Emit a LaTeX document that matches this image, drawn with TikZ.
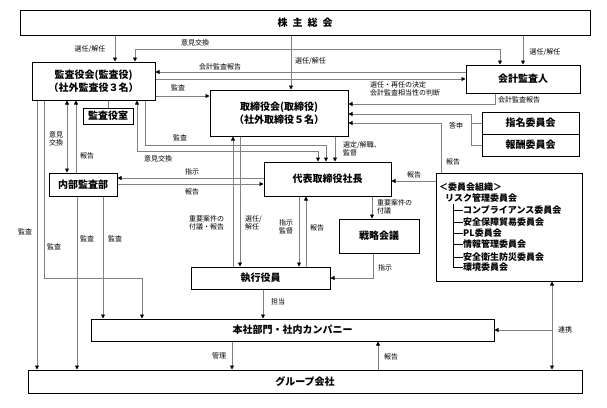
\documentclass[tikz,border=0pt]{standalone}
\usepackage{fontspec}
\setmainfont{Noto Sans CJK JP}
\usetikzlibrary{arrows.meta}
\begin{document}
\begin{tikzpicture}[x=1pt,y=-1pt,
 box/.style={draw=black,line width=1pt,fill=white,inner sep=0pt,align=center,font=\fontsize{10}{12.5}\selectfont\bfseries},
 ln/.style={draw=black!50,line width=0.8pt},
 arr/.style={ln,-{Triangle[length=4pt,width=4pt,color=black]}},
 darr/.style={ln,{Triangle[length=4pt,width=4pt,color=black]}-{Triangle[length=4pt,width=4pt,color=black]}},
 lab/.style={inner sep=0pt,font=\fontsize{7}{8}\selectfont,align=left},
 item/.style={inner sep=0pt,anchor=west,font=\fontsize{9}{10}\selectfont\bfseries},
]
\useasboundingbox[fill=white] (0,0) rectangle (607,407);

% boxes
\node[box,minimum width=570pt,minimum height=25pt] (kabu) at (305,22.5) {株\hspace{5pt}主\hspace{5pt}総\hspace{5pt}会};
\node[box,minimum width=123pt,minimum height=38pt] (kansa) at (93.5,81) {監査役会(監査役)\\（社外監査役３名）};
\node[box,minimum width=50pt,minimum height=16pt] (shitsu) at (108,116) {監査役室};
\node[box,minimum width=138pt,minimum height=46pt] (tori) at (279,113) {取締役会(取締役)\\（社外取締役５名）};
\node[box,minimum width=114pt,minimum height=28pt] (kaikei) at (523,79) {会計監査人};
\node[box,minimum width=97pt,minimum height=22pt] (shimei) at (530.5,123) {指名委員会};
\node[box,minimum width=97pt,minimum height=22pt] (hoshu) at (530.5,145) {報酬委員会};
\node[box,minimum width=127pt,minimum height=34pt] (daihyo) at (327.5,179) {代表取締役社長};
\node[box,minimum width=68pt,minimum height=23pt] (naibu) at (83,184.5) {内部監査部};
\node[box,minimum width=80pt,minimum height=34pt] (senryaku) at (379,236) {戦略会議};
\node[box,minimum width=146pt,minimum height=108pt] (iinkai) at (509,227) {};
\node[box,minimum width=139pt,minimum height=22pt] (shikko) at (260.5,278) {執行役員};
\node[box,minimum width=403pt,minimum height=22pt] (honsha) at (292.5,330) {本社部門・社内カンパニー};
\node[box,minimum width=554pt,minimum height=23pt] (group) at (305,381.5) {グループ会社};

% committee contents
\node[item] (c0) at (439,187) {＜委員会組織＞};
\node[item] (c1) at (445,198) {リスク管理委員会};
\node[item] (c2) at (463,210) {コンプライアンス委員会};
\node[item] (c3) at (463,222) {安全保障貿易委員会};
\node[item] (c4) at (463,233) {PL委員会};
\node[item] (c5) at (463,244) {情報管理委員会};
\node[item] (c6) at (463,257) {安全衛生防災委員会};
\node[item] (c7) at (463,267) {環境委員会};
\draw[black,line width=0.6pt] (453,204) -- (453,267) (c2.west) -- (453,210) (c3.west) -- (453,222) (c4.west) -- (453,233) (c5.west) -- (453,244) (c6.west) -- (453,257) (c7.west) -- (453,267);

% connectors
\draw[ln] (shitsu.north) -- (kansa.south -| shitsu.north);
\draw[arr] (kabu.south -| 115,0) -- (kansa.north -| 115,0);
\node[lab] (l1) at (90,49) {選任/解任};
\draw[arr] (kabu.south -| 291,0) -- (tori.north -| 291,0);
\node[lab,anchor=west] (l2) at (295,61) {選任/解任};
\draw[arr] (kabu.south -| 523,0) -- (kaikei.north -| 523,0);
\node[lab] (l3) at (545,52) {選任/解任};

\draw[darr] (kansa.north -| 135,0) -- (135,49) -- (500,49) -- (kaikei.north -| 500,0);
\node[lab] (l4) at (195,43) {意見交換};
\draw[arr] (kaikei.west |- 0,72) -- (kansa.east |- 0,72);
\node[lab] (l5) at (220,66.5) {会計監査報告};
\draw[arr] (kansa.east |- 0,79) -- (kaikei.west |- 0,79);
\node[lab,anchor=north west] (l6) at (370,81) {選任・再任の決定\\会計監査相当性の判断};
\draw[arr] (kaikei.south -| 495,0) -- (495,104) -- (tori.east |- 0,104);
\node[lab,anchor=west] (l7) at (498,100) {会計監査報告};

\draw[ln] (shimei.west) -- (471,123);
\draw[arr] (hoshu.west) -- (471,145) -- (471,114) -- (tori.east |- 0,114);
\node[lab] (l8) at (456,126) {答申};
\draw[arr] (iinkai.north -| 441,0) -- (441,123) -- (tori.east |- 0,123);
\node[lab] (l9) at (453,162) {報告};

\draw[arr] (kansa.east |- 0,96) -- (tori.west |- 0,96);
\node[lab] (l10) at (178,88) {監査};
\draw[arr] (kansa.south -| 145,0) -- (145,145) -- (326,145) -- (daihyo.north -| 326,0);
\node[lab] (l11) at (180,138) {監査};
\draw[darr] (kansa.south -| 137,0) -- (137,151) -- (318,151) -- (daihyo.north -| 318,0);
\node[lab] (l12) at (158,159) {意見交換};
\draw[arr] (tori.south -| 335,0) -- (daihyo.north -| 335,0);
\node[lab,anchor=north west] (l13) at (343,141) {選定/解職、\\監督};

\draw[arr] (shikko.north -| 233,0) -- (tori.south -| 233,0);
\draw[arr] (tori.south -| 240,0) -- (shikko.north -| 240,0);
\node[lab,anchor=north west] (l14) at (189,215) {重要案件の\\付議・報告};
\node[lab,anchor=north west] (l15) at (245,215) {選任/\\解任};

\draw[arr] (daihyo.south -| 299,0) -- (shikko.north -| 299,0);
\draw[arr] (shikko.north -| 306,0) -- (daihyo.south -| 306,0);
\node[lab,anchor=north west] (l16) at (279,219) {指示\\監督};
\node[lab,anchor=west] (l17) at (310,228) {報告};

\draw[arr] (daihyo.south -| 372,0) -- (senryaku.north -| 372,0);
\node[lab,anchor=north west] (l18) at (377,199) {重要案件の\\付議};
\draw[arr] (senryaku.south -| 373,0) -- (373,278) -- (shikko.east);
\node[lab,anchor=west] (l19) at (378,268) {指示};

\draw[arr] (iinkai.west |- 0,181) -- (daihyo.east |- 0,181);
\node[lab] (l20) at (414,175) {報告};
\draw[arr] (daihyo.west |- 0,178) -- (naibu.east |- 0,178);
\node[lab] (l21) at (192,172) {指示};
\draw[arr] (naibu.east |- 0,184) -- (daihyo.west |- 0,184);
\node[lab] (l22) at (192,192) {報告};

\draw[darr] (kansa.south -| 67,0) -- (naibu.north -| 67,0);
\node[lab,align=center] (l23) at (56,138.5) {意見\\交換};
\draw[arr] (naibu.north -| 76,0) -- (kansa.south -| 76,0);
\node[lab] (l24) at (87,156) {報告};

\draw[arr] (kansa.south -| 37,0) -- (group.north -| 37,0);
\node[lab] (l25) at (25,232) {監査};
\draw[arr] (kansa.south -| 44,0) -- (44,278) -- (142,278) -- (honsha.north -| 142,0);
\node[lab] (l26) at (54,247) {監査};
\draw[arr] (naibu.south -| 77,0) -- (group.north -| 77,0);
\node[lab] (l27) at (87,239) {監査};
\draw[arr] (naibu.south -| 103,0) -- (honsha.north -| 103,0);
\node[lab] (l28) at (115,239) {監査};

\draw[arr] (shikko.south -| 263,0) -- (honsha.north -| 263,0);
\node[lab] (l29) at (278,302) {担当};
\draw[arr] (honsha.south -| 232,0) -- (group.north -| 232,0);
\node[lab] (l30) at (219,356) {管理};
\draw[arr] (group.north -| 378,0) -- (honsha.south -| 378,0);
\node[lab] (l31) at (391,357) {報告};

\draw[darr] (iinkai.south -| 552,0) -- (group.north -| 552,0);
\coordinate (rj) at (552,330);
\draw[arr] (rj) -- (honsha.east |- rj);
\node[lab] (l32) at (565,330) {連携};
\end{tikzpicture}
\end{document}
